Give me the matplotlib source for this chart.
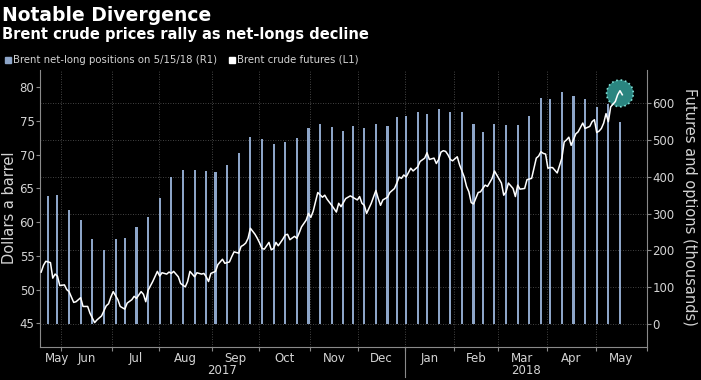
import matplotlib.pyplot as plt
import numpy as np
import pandas as pd

plt.rcParams['font.family'] = ['DejaVu Sans']

# trading calendar used for the x axis (weekdays minus exchange holidays)
holidays = ['2017-05-29', '2017-07-04', '2017-09-04', '2017-11-23', '2017-12-25',
            '2018-01-01', '2018-01-15', '2018-02-19', '2018-03-30', '2018-05-28']
start_day = '2017-05-18'
end_day = '2018-06-01'

# Brent crude futures, $/bbl (left axis)
brent_dates = [
    '2017-05-18', '2017-05-19', '2017-05-22', '2017-05-24', '2017-05-25', '2017-05-26',
    '2017-05-30', '2017-05-31', '2017-06-02', '2017-06-05', '2017-06-06', '2017-06-08',
    '2017-06-09', '2017-06-13', '2017-06-14', '2017-06-16', '2017-06-19', '2017-06-21',
    '2017-06-22', '2017-06-26', '2017-06-28', '2017-06-29', '2017-06-30', '2017-07-03',
    '2017-07-06', '2017-07-07', '2017-07-11', '2017-07-12', '2017-07-14', '2017-07-17',
    '2017-07-18', '2017-07-20', '2017-07-21', '2017-07-24', '2017-07-25', '2017-07-27',
    '2017-07-31', '2017-08-01', '2017-08-02', '2017-08-04', '2017-08-07', '2017-08-08',
    '2017-08-09', '2017-08-11', '2017-08-14', '2017-08-16', '2017-08-17', '2017-08-18',
    '2017-08-22', '2017-08-23', '2017-08-25', '2017-08-28', '2017-08-29', '2017-08-30',
    '2017-08-31', '2017-09-05', '2017-09-06', '2017-09-08', '2017-09-11', '2017-09-13',
    '2017-09-14', '2017-09-15', '2017-09-19', '2017-09-20', '2017-09-21', '2017-09-22',
    '2017-09-25', '2017-09-26', '2017-09-28', '2017-09-29', '2017-10-02', '2017-10-03',
    '2017-10-04', '2017-10-06', '2017-10-09', '2017-10-10', '2017-10-11', '2017-10-12',
    '2017-10-16', '2017-10-17', '2017-10-18', '2017-10-19', '2017-10-23', '2017-10-24',
    '2017-10-25', '2017-10-26', '2017-10-30', '2017-10-31', '2017-11-01', '2017-11-02',
    '2017-11-06', '2017-11-08', '2017-11-09', '2017-11-10', '2017-11-14', '2017-11-16',
    '2017-11-17', '2017-11-20', '2017-11-22', '2017-11-27', '2017-11-29', '2017-11-30',
    '2017-12-01', '2017-12-04', '2017-12-05', '2017-12-06', '2017-12-08', '2017-12-12',
    '2017-12-13', '2017-12-14', '2017-12-15', '2017-12-19', '2017-12-20', '2017-12-22',
    '2017-12-26', '2017-12-27', '2017-12-28', '2017-12-29', '2018-01-02', '2018-01-04',
    '2018-01-05', '2018-01-09', '2018-01-10', '2018-01-12', '2018-01-16', '2018-01-17',
    '2018-01-19', '2018-01-22', '2018-01-23', '2018-01-24', '2018-01-25', '2018-01-26',
    '2018-01-29', '2018-01-30', '2018-01-31', '2018-02-02', '2018-02-05', '2018-02-07',
    '2018-02-08', '2018-02-09', '2018-02-12', '2018-02-13', '2018-02-15', '2018-02-16',
    '2018-02-21', '2018-02-22', '2018-02-26', '2018-02-27', '2018-02-28', '2018-03-02',
    '2018-03-05', '2018-03-06', '2018-03-07', '2018-03-09', '2018-03-12', '2018-03-13',
    '2018-03-14', '2018-03-16', '2018-03-19', '2018-03-21', '2018-03-22', '2018-03-23',
    '2018-03-26', '2018-03-27', '2018-03-28', '2018-03-29', '2018-04-02', '2018-04-03',
    '2018-04-04', '2018-04-06', '2018-04-10', '2018-04-11', '2018-04-12', '2018-04-13',
    '2018-04-16', '2018-04-18', '2018-04-19', '2018-04-23', '2018-04-24', '2018-04-26',
    '2018-04-27', '2018-04-30', '2018-05-01', '2018-05-02', '2018-05-03', '2018-05-04',
    '2018-05-07', '2018-05-08', '2018-05-09', '2018-05-10', '2018-05-11', '2018-05-14',
    '2018-05-15', '2018-05-16']
brent_prices = [
    52.6, 53.6, 54.2, 54.0, 51.7, 52.3,
    52.0, 50.6, 50.7, 50.0, 49.7, 48.1,
    48.2, 48.8, 47.5, 47.5, 46.5, 45.1,
    45.5, 46.1, 47.6, 47.9, 48.9, 49.7,
    48.5, 47.5, 47.1, 48.0, 48.5, 49.0,
    48.7, 49.7, 49.3, 48.2, 49.9, 51.2,
    52.7, 52.0, 52.5, 52.3, 52.6, 52.4,
    52.7, 51.9, 50.9, 50.4, 51.2, 52.7,
    51.9, 52.5, 52.3, 52.4, 51.9, 51.2,
    52.4, 52.7, 53.7, 54.5, 53.9, 54.1,
    54.9, 55.6, 55.4, 56.4, 56.6, 56.9,
    57.6, 59.1, 58.2, 57.6, 56.9, 56.1,
    56.0, 57.0, 55.9, 56.1, 57.0, 56.5,
    57.5, 58.1, 58.2, 57.4, 57.9, 57.6,
    58.4, 59.3, 60.3, 61.3, 60.7, 61.6,
    64.4, 63.7, 64.0, 63.4, 62.5, 61.5,
    62.8, 62.3, 63.5, 63.9, 63.5, 63.3,
    63.8, 62.8, 62.5, 61.3, 62.8, 64.7,
    63.5, 62.5, 63.3, 63.7, 64.4, 65.0,
    65.8, 66.7, 66.5, 67.0, 66.7, 68.0,
    67.6, 68.2, 69.0, 69.5, 70.3, 69.3,
    69.5, 68.7, 69.3, 70.4, 70.6, 70.5,
    70.0, 69.3, 69.1, 69.7, 68.5, 66.7,
    65.3, 64.5, 62.9, 62.7, 64.4, 64.5,
    65.5, 65.3, 66.5, 67.6, 67.0, 65.8,
    64.0, 64.5, 65.8, 65.0, 63.8, 65.5,
    64.9, 65.0, 66.3, 66.5, 68.0, 69.5,
    69.8, 70.45, 70.2, 70.1, 68.0, 68.1,
    68.1, 67.3, 69.5, 71.9, 72.2, 72.6,
    71.4, 73.1, 73.4, 74.7, 73.9, 74.2,
    74.9, 75.2, 73.3, 73.5, 73.9, 74.7,
    76.1, 74.9, 77.1, 77.5, 77.9, 78.9,
    79.5, 78.9]

# Brent net-long positions, thousands of contracts (right axis), weekly Tuesdays
cot_dates = pd.date_range('2017-05-23', '2018-05-15', freq='7D')
net_longs = [348, 351, 309, 283, 230, 201, 230, 233, 263, 290,
             343, 400, 420, 418, 416, 413, 431, 466, 508, 503,
             488, 495, 506, 532, 544, 536, 526, 539, 534, 545,
             538, 562, 566, 575, 572, 585, 577, 575, 544, 523,
             545, 540, 540, 566, 614, 611, 632, 620, 611, 591,
             597, 548]

month_starts = pd.date_range('2017-06-01', '2018-06-01', freq='MS')
month_names = ['May', 'Jun', 'Jul', 'Aug', 'Sep', 'Oct', 'Nov', 'Dec',
               'Jan', 'Feb', 'Mar', 'Apr', 'May']
years = ['2017', '2018']


def tday(dates):
    d = np.array(pd.to_datetime(dates).values, dtype='datetime64[D]')
    d = np.busday_offset(d, 0, roll='forward', holidays=holidays)
    return np.busday_count(np.datetime64(start_day), d, holidays=holidays)


xb = tday(brent_dates)
xc = tday(cot_dates)
x_min = -0.5
x_max = tday([end_day])[0] - 0.5
bounds = tday(month_starts) - 0.5
edges = np.concatenate([[x_min], bounds])
centers = (edges[:-1] + edges[1:]) / 2
centers[0] = bounds[0] - 1.5   # partial first month label sits near the boundary

grid_c = '#5a5a5a'
text_c = '#d4d4d4'
spine_c = '#8a8a8a'

fig = plt.figure(figsize=(7.01, 3.80), dpi=100, facecolor='black')
ax = fig.add_axes([40 / 701, 1 - 346.7 / 380, 606.7 / 701, 276.7 / 380])
ax.set_facecolor('black')
ax2 = ax.twinx()

# bars on the right axis
ax.bar(xc, net_longs, width=0.9, color='#8da5c8', zorder=2)
ax.set_ylim(-61.7, 690.5)
ax.set_xlim(x_min, x_max)
ax.yaxis.tick_right()
ax.set_yticks(range(0, 700, 100))
ax.tick_params(axis='y', colors=spine_c, labelcolor=text_c, labelsize=8.5,
               length=3, width=0.8, pad=1, left=False, labelleft=False,
               right=True, labelright=True)
ax.grid(axis='y', color=grid_c, ls=(0, (1, 2)), lw=0.6, zorder=0)

ax.set_xticks(bounds)
ax.set_xticklabels([])
ax.set_xticks(centers, minor=True)
ax.set_xticklabels(month_names, minor=True)
ax.tick_params(axis='x', which='major', colors=spine_c, length=3, width=0.8)
ax.tick_params(axis='x', which='minor', length=0, labelcolor=text_c,
               labelsize=8.5, pad=4)
ax.grid(axis='x', which='major', color=grid_c, ls=(0, (1, 2)), lw=0.6, zorder=0)

for s in ['top', 'left']:
    ax.spines[s].set_visible(False)
for s in ['right', 'bottom']:
    ax.spines[s].set_color(spine_c)
    ax.spines[s].set_linewidth(0.8)

# year labels and separator
trans = ax.get_xaxis_transform()
jan = bounds[list(month_names).index('Jan') - 1]
ax.plot([jan, jan], [0, -0.11], color=spine_c, lw=0.8, transform=trans, clip_on=False)
ax.text((x_min + jan) / 2, -0.087, years[0], transform=trans, ha='center',
        va='center', color=text_c, fontsize=8.5)
ax.text((jan + x_max) / 2, -0.087, years[1], transform=trans, ha='center',
        va='center', color=text_c, fontsize=8.5)

# price line on the left axis
ax2.plot(xb, brent_prices, color='white', lw=1.1, zorder=3)
ax2.scatter([np.mean(xb[-3:])], [np.mean(brent_prices[-3:])], s=370,
            facecolor='#2a8580', edgecolor='#7fe0d6', linewidths=1.2,
            linestyle=':', zorder=2)
ax2.set_ylim(41.53, 82.57)
ax2.set_xlim(x_min, x_max)
ax2.set_yticks(range(45, 85, 5))
ax2.tick_params(axis='y', colors=spine_c, labelcolor=text_c, labelsize=8.5,
                length=3, width=0.8, pad=1, left=True, labelleft=True,
                right=False, labelright=False)
for s in ['top', 'right', 'bottom']:
    ax2.spines[s].set_visible(False)
ax2.spines['left'].set_color(spine_c)
ax2.spines['left'].set_linewidth(0.8)

fig.text(10 / 701, 1 - 207.5 / 380, 'Dollars a barrel', rotation=90, ha='center',
         va='center', color=text_c, fontsize=10.5)
fig.text(690 / 701, 1 - 207 / 380, 'Futures and options (thousands)', rotation=270,
         ha='center', va='center', color=text_c, fontsize=10.5)

fig.text(2 / 701, 1 - 21 / 380, 'Notable Divergence', color='white', fontsize=13.5,
         fontweight='bold', ha='left', va='baseline')
fig.text(2 / 701, 1 - 38.5 / 380, 'Brent crude prices rally as net-longs decline',
         color='white', fontsize=10.5, fontweight='bold', ha='left', va='baseline')

# legend
fig.patches.append(plt.Rectangle((5 / 701, 1 - 63 / 380), 6 / 701, 6 / 380,
                                 transform=fig.transFigure, color='#8da5c8'))
fig.text(13 / 701, 1 - 63 / 380, 'Brent net-long positions on 5/15/18 (R1)',
         color=text_c, fontsize=7.3, ha='left', va='baseline')
fig.patches.append(plt.Rectangle((228.5 / 701, 1 - 63 / 380), 6 / 701, 6 / 380,
                                 transform=fig.transFigure, color='white'))
fig.text(237 / 701, 1 - 63 / 380, 'Brent crude futures (L1)',
         color=text_c, fontsize=7.3, ha='left', va='baseline')

fig.savefig('out.png', dpi=100, facecolor='black')
